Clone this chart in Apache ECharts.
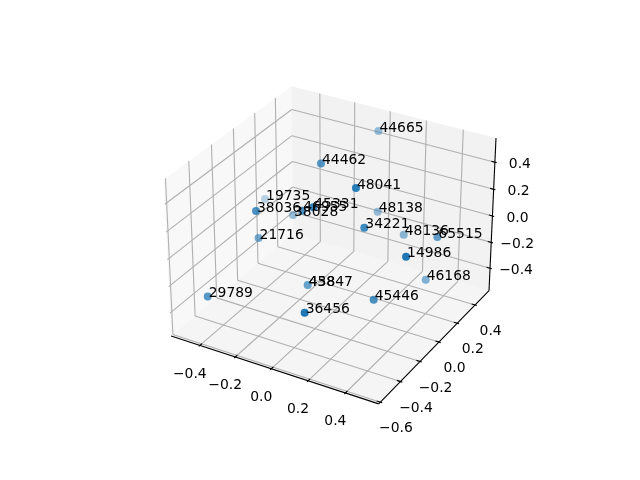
<!DOCTYPE html>
<html>
<head>
<meta charset="utf-8">
<style>html,body{margin:0;padding:0;background:#fff}#main{width:640px;height:480px}</style>
<script src="https://cdn.jsdelivr.net/npm/echarts@6/dist/echarts.min.js"></script>
</head>
<body>
<div id="main"></div>
<script>
// values
var labels = ['44665','44462','48041','19735','38036','38028','46955','45331','48138','34221',
  '48136','65515','14986','46168','45446','21716','29789','36456','45847','438']
var xs = [-0.032,-0.082,0.189,-0.511,-0.265,-0.292,-0.077,0.015,0.064,0.220,
  0.226,0.460,0.492,0.396,0.319,-0.330,-0.389,0.153,-0.169,-0.152]
var ys = [0.498,0.010,-0.138,0.194,-0.293,0.098,-0.180,-0.235,0.319,-0.110,
  0.289,0.185,-0.206,0.201,-0.194,-0.170,-0.548,-0.561,0.025,-0.004]
var zs = [0.454,0.485,0.498,-0.047,0.261,-0.027,0.262,0.356,-0.008,0.207,
  -0.100,0.041,0.167,-0.316,-0.226,-0.042,-0.248,-0.132,-0.467,-0.440]

var xLim = [-0.565, 0.575]
var yLim = [-0.616, 0.56]
var zLim = [-0.575, 0.575]
var xTicks = [-0.4, -0.2, 0, 0.2, 0.4]
var yTicks = [-0.6, -0.4, -0.2, 0, 0.2, 0.4]
var zTicks = [-0.4, -0.2, 0, 0.2, 0.4]

var blue = '#1f77b4'

// same camera as a default mplot3d axes: elev 30, azim -60, box 4:4:3
var box = [1.1905, 1.1905, 0.8929]
var dist = 10
var U = [0.866025, 0.5, 0]
var V = [-0.25, 0.433013, 0.866025]
var W = [0.433013, -0.75, 0.5]

function dot(a, b) {
  return a[0] * b[0] + a[1] * b[1] + a[2] * b[2]
}

function toBox(x, y, z) {
  return [
    ((x - xLim[0]) / (xLim[1] - xLim[0]) - 0.5) * box[0],
    ((y - yLim[0]) / (yLim[1] - yLim[0]) - 0.5) * box[1],
    ((z - zLim[0]) / (zLim[1] - zLim[0]) - 0.5) * box[2],
  ]
}

function project(x, y, z) {
  var d = toBox(x, y, z)
  var depth = dist - dot(W, d)
  return [dot(U, d) / depth, dot(V, d) / depth]
}

function tickLabel(v) {
  return (v < 0 ? '\u2212' : '') + Math.abs(v).toFixed(1)
}

function seg(a, b) {
  return project(a[0], a[1], a[2]).concat(project(b[0], b[1], b[2]))
}

var x0 = xLim[0], x1 = xLim[1], y0 = yLim[0], y1 = yLim[1], z0 = zLim[0], z1 = zLim[1]

// panes
var panes = [
  { color: 'rgba(242,242,242,0.5)', pts: [[x0, y0, z0], [x0, y1, z0], [x0, y1, z1], [x0, y0, z1]] },
  { color: 'rgba(230,230,230,0.5)', pts: [[x0, y1, z0], [x1, y1, z0], [x1, y1, z1], [x0, y1, z1]] },
  { color: 'rgba(236,236,236,0.5)', pts: [[x0, y0, z0], [x1, y0, z0], [x1, y1, z0], [x0, y1, z0]] },
]

var gridSegs = []
xTicks.forEach(function (t) {
  gridSegs.push(seg([t, y0, z0], [t, y1, z0]))
  gridSegs.push(seg([t, y1, z0], [t, y1, z1]))
})
yTicks.forEach(function (t) {
  gridSegs.push(seg([x1, t, z0], [x0, t, z0]))
  gridSegs.push(seg([x0, t, z0], [x0, t, z1]))
})
zTicks.forEach(function (t) {
  gridSegs.push(seg([x0, y0, t], [x0, y1, t]))
  gridSegs.push(seg([x0, y1, t], [x1, y1, t]))
})

var axisSegs = [
  seg([x0, y0, z0], [x1, y0, z0]),
  seg([x1, y0, z0], [x1, y1, z0]),
  seg([x1, y1, z0], [x1, y1, z1]),
]

// tick marks run a little into the box and a little out of it
var dx = (x1 - x0) / 12, dy = (y1 - y0) / 12
var tickSegs = []
xTicks.forEach(function (t) {
  tickSegs.push(seg([t, y0 + 0.2 * dy, z0], [t, y0 - 0.1 * dy, z0]))
})
yTicks.forEach(function (t) {
  tickSegs.push(seg([x1 - 0.2 * dx, t, z0], [x1 + 0.1 * dx, t, z0]))
})
zTicks.forEach(function (t) {
  tickSegs.push(seg([x1 - 0.2 * dx, y1, t], [x1 + 0.1 * dx, y1, t]))
})

// tick label anchors, each one shifted from its tick in pixels
var tickTexts = []
xTicks.forEach(function (t) {
  tickTexts.push({ pos: project(t, y0, z0), text: tickLabel(t), off: [-10, 28.5] })
})
yTicks.forEach(function (t) {
  tickTexts.push({ pos: project(x1, t, z0), text: tickLabel(t), off: [15.5, 26.5] })
})
zTicks.forEach(function (t) {
  tickTexts.push({ pos: project(x1, y1, t), text: tickLabel(t), off: [t < 0 ? 26 : 25, 2] })
})

// points: depth shaded like depthshade, far ones first
var depths = xs.map(function (x, i) {
  return dot(W, toBox(x, ys[i], zs[i]))
})
var dMin = Math.min.apply(null, depths)
var dMax = Math.max.apply(null, depths)
var order = xs.map(function (x, i) { return i })
order.sort(function (a, b) { return depths[a] - depths[b] })

var pointData = order.map(function (i) {
  return {
    value: project(xs[i], ys[i], zs[i]),
    name: labels[i],
    itemStyle: { opacity: 0.3 + 0.7 * (depths[i] - dMin) / (dMax - dMin) },
  }
})

function lineSeries(segs, color, width, z) {
  return {
    type: 'custom',
    silent: true,
    clip: false,
    z: z,
    data: segs,
    encode: { x: 0, y: 1 },
    renderItem: function (params, api) {
      var a = api.coord([api.value(0), api.value(1)])
      var b = api.coord([api.value(2), api.value(3)])
      return {
        type: 'line',
        shape: { x1: a[0], y1: a[1], x2: b[0], y2: b[1] },
        style: { stroke: color, lineWidth: width, fill: null },
      }
    },
  }
}

var chart = echarts.init(document.getElementById('main'), null, { renderer: 'canvas', width: 640, height: 480 })

chart.setOption({
  animation: false,
  backgroundColor: '#fff',
  grid: { left: 143.2, top: 57.6, width: 369.6, height: 369.6 },
  xAxis: { type: 'value', min: -0.095, max: 0.09, show: false },
  yAxis: { type: 'value', min: -0.095, max: 0.09, show: false },
  series: [
    {
      type: 'custom',
      silent: true,
      clip: false,
      z: 1,
      data: panes.map(function (p, i) {
        var c = p.pts.map(function (q) { return project(q[0], q[1], q[2]) })
        return [c[0][0], c[0][1], i]
      }),
      encode: { x: 0, y: 1 },
      renderItem: function (params, api) {
        var p = panes[params.dataIndex]
        return {
          type: 'polygon',
          shape: {
            points: p.pts.map(function (q) { return api.coord(project(q[0], q[1], q[2])) }),
          },
          style: { fill: p.color, stroke: null },
        }
      },
    },
    lineSeries(gridSegs, '#b0b0b0', 1.1, 2),
    lineSeries(axisSegs, '#000', 1.1, 3),
    lineSeries(tickSegs, '#000', 1.1, 3),
    {
      type: 'custom',
      silent: true,
      clip: false,
      z: 4,
      data: tickTexts.map(function (t) { return t.pos }),
      encode: { x: 0, y: 1 },
      renderItem: function (params, api) {
        var t = tickTexts[params.dataIndex]
        var c = api.coord(t.pos)
        return {
          type: 'text',
          style: {
            text: t.text,
            x: c[0] + t.off[0],
            y: c[1] + t.off[1],
            align: 'center',
            verticalAlign: 'middle',
            font: '13.9px "DejaVu Sans"',
            fill: '#000',
          },
        }
      },
    },
    {
      type: 'scatter',
      silent: true,
      z: 5,
      clip: false,
      symbol: 'circle',
      symbolSize: 8,
      itemStyle: { color: blue, borderWidth: 0 },
      label: {
        show: true,
        position: 'inside',
        align: 'left',
        verticalAlign: 'bottom',
        offset: [1, 4],
        opacity: 1,
        color: '#000',
        fontFamily: 'DejaVu Sans',
        fontSize: 13.9,
        formatter: function (p) { return p.name },
      },
      data: pointData,
    },
  ],
})
</script>
</body>
</html>
